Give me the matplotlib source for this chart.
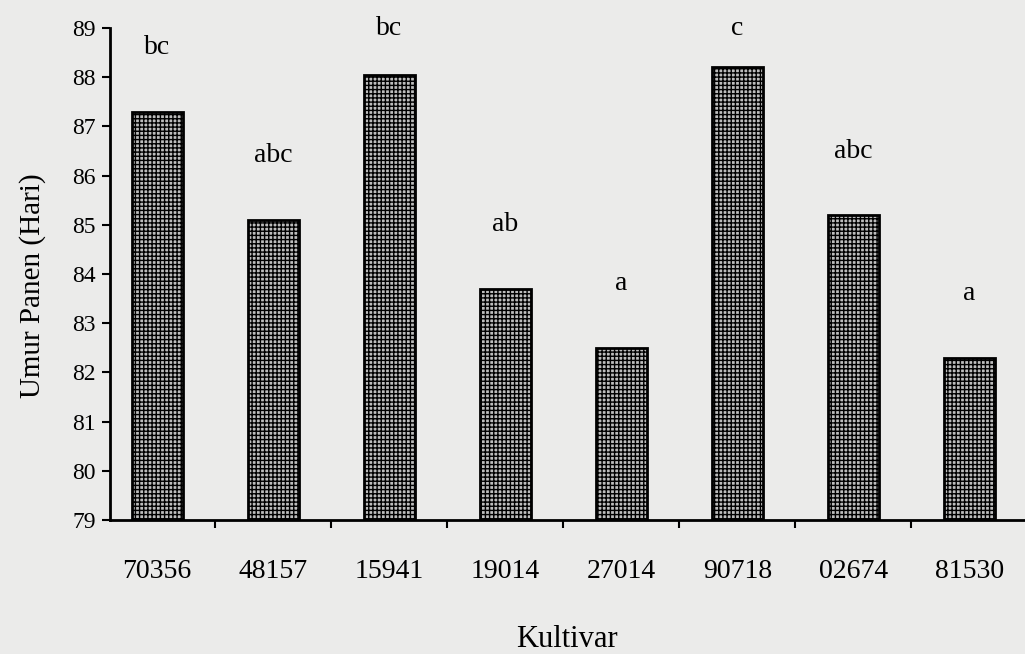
import numpy as np
import matplotlib.pyplot as plt

plt.rcParams['font.family'] = ['Liberation Serif', 'DejaVu Serif']
plt.rcParams['hatch.linewidth'] = 1.0

kultivar = ['70356', '48157', '15941', '19014', '27014', '90718', '02674', '81530']
umur_panen = [87.3, 85.1, 88.05, 83.7, 82.5, 88.2, 85.2, 82.3]
notasi = ['bc', 'abc', 'bc', 'ab', 'a', 'c', 'abc', 'a']

fig = plt.figure(figsize=(10.25, 6.54), dpi=100, facecolor='#ebebea')
ax = fig.add_axes([0.107, 0.205, 0.893, 0.752])
ax.set_facecolor('#ebebea')

x = np.arange(len(kultivar)) + 0.5
ax.bar(x, np.array(umur_panen) - 79, bottom=79, width=0.44,
       color='#bdbdbd', edgecolor='black', linewidth=2, hatch='++++')

for xi, v, n in zip(x, umur_panen, notasi):
    ax.text(xi, min(v + 1.3, 89.0), n, ha='center', va='center', fontsize=20)

ax.set_xlim(0.09, 7.98)
ax.set_ylim(79, 89)
ax.set_yticks(range(79, 90))
ax.tick_params(axis='y', labelsize=17, length=6, width=1.5, direction='out', pad=4)

ax.set_xticks(np.arange(1, 8))
ax.set_xticklabels([])
ax.set_xticks(x, minor=True)
ax.set_xticklabels(kultivar, minor=True, fontsize=20)
ax.tick_params(axis='x', which='major', length=6, width=1.5, direction='out')
ax.tick_params(axis='x', which='minor', length=0, pad=28)

for s in ['top', 'right']:
    ax.spines[s].set_visible(False)
ax.spines['left'].set_linewidth(2)
ax.spines['bottom'].set_linewidth(2)

ax.set_ylabel('Umur Panen (Hari)', fontsize=21)
ax.yaxis.set_label_coords(-0.07, 0.476)
ax.set_xlabel('Kultivar', fontsize=22, labelpad=30)

fig.savefig('out.png', dpi=100, facecolor=fig.get_facecolor())
